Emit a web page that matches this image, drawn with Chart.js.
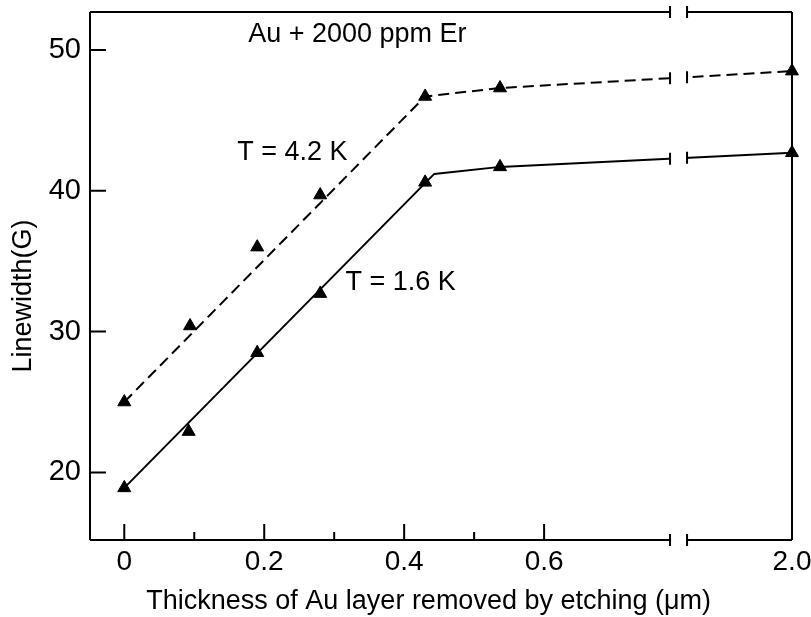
<!DOCTYPE html>
<html>
<head>
<meta charset="utf-8">
<title>Linewidth vs. etched thickness</title>
<script src="https://cdn.jsdelivr.net/npm/chart.js@4.4.1/dist/chart.umd.min.js"></script>
<style>
  html, body { margin: 0; padding: 0; background: #fff; }
  #wrap { width: 811px; height: 617px; position: relative; }
</style>
</head>
<body>
<div id="wrap"><canvas id="linewidthChart"></canvas></div>
<script>
// Au + 2000 ppm Er: EPR linewidth after etching away surface layers

// Measured points (thickness in um, linewidth in G)
const thickness42 = [0, 0.094, 0.19, 0.28, 0.43, 0.537, 2.0];
const linewidth42 = [25.0, 30.4, 36.0, 39.7, 46.7, 47.3, 48.5];
const thickness16 = [0, 0.092, 0.19, 0.28, 0.43, 0.537, 2.0];
const linewidth16 = [18.9, 22.9, 28.5, 32.7, 40.6, 41.7, 42.7];

// Guide lines drawn through the points
const guideThickness42 = [0, 0.43, 0.537, 2.0];
const guideLinewidth42 = [25.0, 46.7, 47.3, 48.5];
const guideThickness16 = [0, 0.443, 0.537, 2.0];
const guideLinewidth16 = [18.9, 41.2, 41.7, 42.7];

// Axis ticks
const xMajorTicks = [0, 0.2, 0.4, 0.6, 2.0];
const xMinorTicks = [0.1, 0.3, 0.5];
const yTicks = [20, 30, 40, 50];

// Text placed inside the plot (data coordinates)
const notes = [
  { text: 'Au + 2000 ppm Er', x: 0.177, y: 51.1 },
  { text: 'T = 4.2 K', x: 0.1615, y: 42.7 },
  { text: 'T = 1.6 K', x: 0.316, y: 33.45 }
];

const xTitle = 'Thickness of Au layer removed by etching (\u03bcm)';
const yTitle = 'Linewidth(G)';

// x axis is cut between these two values
const AXIS_BREAK = { from: 0.78, to: 1.85, gap: 17 };

const FONT = '"Liberation Sans", Arial, sans-serif';

// Linear scale with a gap: both sides keep the same px-per-micron
class BrokenLinearScale extends Chart.LinearScale {
  static id = 'brokenLinear';
  static defaults = Chart.LinearScale.defaults;

  _unitPx() {
    const span = (this.max - this.min) - (AXIS_BREAK.to - AXIS_BREAK.from);
    return (this.width - AXIS_BREAK.gap) / span;
  }

  getPixelForValue(value) {
    const k = this._unitPx();
    if (value <= AXIS_BREAK.from) return this.left + (value - this.min) * k;
    if (value >= AXIS_BREAK.to) return this.right - (this.max - value) * k;
    const start = this.left + (AXIS_BREAK.from - this.min) * k;
    return start + (value - AXIS_BREAK.from) / (AXIS_BREAK.to - AXIS_BREAK.from) * AXIS_BREAK.gap;
  }

  getValueForPixel(pixel) {
    const k = this._unitPx();
    const cut = this.left + (AXIS_BREAK.from - this.min) * k;
    if (pixel <= cut) return this.min + (pixel - this.left) / k;
    if (pixel >= cut + AXIS_BREAK.gap) return this.max - (this.right - pixel) / k;
    return AXIS_BREAK.from + (pixel - cut) / AXIS_BREAK.gap * (AXIS_BREAK.to - AXIS_BREAK.from);
  }
}
Chart.register(BrokenLinearScale);

function toPoints(xs, ys) {
  return xs.map((x, i) => ({ x: x, y: ys[i] }));
}

// y pixel of a drawn line at a given x pixel
function lineYAt(meta, px) {
  const pts = meta.data;
  for (let i = 1; i < pts.length; i++) {
    const a = pts[i - 1], b = pts[i];
    if (px >= a.x && px <= b.x) {
      return a.y + (b.y - a.y) * (px - a.x) / (b.x - a.x);
    }
  }
  return null;
}

// Frame, inward ticks, axis break marks, titles and in-plot text
const frameAndBreak = {
  id: 'frameAndBreak',
  afterDraw(chart) {
    const { ctx, chartArea: { left, right, top, bottom }, scales: { x, y } } = chart;
    const cutL = x.getPixelForValue(AXIS_BREAK.from);
    const cutR = x.getPixelForValue(AXIS_BREAK.to);
    const bar = 6;

    ctx.save();

    // open the gap in the guide lines
    ctx.fillStyle = '#fff';
    ctx.fillRect(cutL, top + 2, cutR - cutL, bottom - top - 4);

    ctx.strokeStyle = '#000';
    ctx.lineWidth = 2;
    ctx.lineCap = 'butt';
    ctx.setLineDash([]);

    ctx.beginPath();
    // left and right sides
    ctx.moveTo(left, top); ctx.lineTo(left, bottom);
    ctx.moveTo(right, top); ctx.lineTo(right, bottom);
    // top and bottom, each cut at the break
    [top, bottom].forEach(py => {
      ctx.moveTo(left, py); ctx.lineTo(cutL, py);
      ctx.moveTo(cutR, py); ctx.lineTo(right, py);
      ctx.moveTo(cutL, py - bar); ctx.lineTo(cutL, py + bar);
      ctx.moveTo(cutR, py - bar); ctx.lineTo(cutR, py + bar);
    });

    // break bars on both guide lines
    chart.data.datasets.forEach((ds, i) => {
      if (!ds.isGuide) return;
      const meta = chart.getDatasetMeta(i);
      [cutL, cutR].forEach(px => {
        const py = lineYAt(meta, px);
        if (py === null) return;
        ctx.moveTo(px, py - bar); ctx.lineTo(px, py + bar);
      });
    });

    // y ticks point into the plot
    yTicks.forEach(v => {
      const py = y.getPixelForValue(v);
      ctx.moveTo(left, py); ctx.lineTo(left + 16, py);
    });
    // x ticks, major and minor
    xMajorTicks.forEach(v => {
      if (v >= AXIS_BREAK.to) return;
      const px = x.getPixelForValue(v);
      ctx.moveTo(px, bottom); ctx.lineTo(px, bottom - 16);
    });
    xMinorTicks.forEach(v => {
      const px = x.getPixelForValue(v);
      ctx.moveTo(px, bottom); ctx.lineTo(px, bottom - 8);
    });
    ctx.stroke();

    // labels inside the plot
    ctx.fillStyle = '#000';
    ctx.font = '27px ' + FONT;
    ctx.textAlign = 'left';
    ctx.textBaseline = 'middle';
    notes.forEach(n => {
      ctx.fillText(n.text, x.getPixelForValue(n.x), y.getPixelForValue(n.y));
    });

    // x axis title, a little left of the plot centre
    ctx.textAlign = 'center';
    ctx.fillText(xTitle, x.getPixelForValue(0.435), bottom + 62);

    // y axis title
    ctx.translate(24, (top + bottom) / 2 + 20);
    ctx.rotate(-Math.PI / 2);
    ctx.fillText(yTitle, 0, 0);

    ctx.restore();
  }
};

const ctx = document.getElementById('linewidthChart');

new Chart(ctx, {
  type: 'scatter',
  data: {
    datasets: [{
      label: 'T = 4.2 K points',
      data: toPoints(thickness42, linewidth42),
      showLine: false,
      pointStyle: 'triangle',
      pointRadius: 7.5,
      pointBackgroundColor: '#000',
      pointBorderColor: '#000',
      pointBorderWidth: 1,
      clip: false
    }, {
      label: 'T = 1.6 K points',
      data: toPoints(thickness16, linewidth16),
      showLine: false,
      pointStyle: 'triangle',
      pointRadius: 7.5,
      pointBackgroundColor: '#000',
      pointBorderColor: '#000',
      pointBorderWidth: 1,
      clip: false
    }, {
      label: 'T = 4.2 K',
      isGuide: true,
      data: toPoints(guideThickness42, guideLinewidth42),
      showLine: true,
      borderColor: '#000',
      borderWidth: 2,
      borderDash: [11, 6],
      pointRadius: 0,
      tension: 0
    }, {
      label: 'T = 1.6 K',
      isGuide: true,
      data: toPoints(guideThickness16, guideLinewidth16),
      showLine: true,
      borderColor: '#000',
      borderWidth: 2,
      pointRadius: 0,
      tension: 0
    }]
  },
  options: {
    responsive: true,
    maintainAspectRatio: false,
    animation: false,
    events: [],
    layout: { padding: { top: 12, right: 19, left: 0, bottom: 0 } },
    plugins: {
      legend: { display: false },
      tooltip: { enabled: false }
    },
    scales: {
      x: {
        type: 'brokenLinear',
        position: 'bottom',
        min: -0.049,
        max: 2.0,
        border: { display: false },
        grid: { display: false, drawTicks: false },
        afterBuildTicks: scale => {
          scale.ticks = xMajorTicks.map(v => ({ value: v }));
        },
        afterFit: scale => {
          scale.height = 77;
          scale.paddingLeft = 0;
          scale.paddingRight = 0;
        },
        ticks: {
          autoSkip: false,
          maxRotation: 0,
          padding: 5,
          color: '#000',
          font: { family: FONT, size: 28 },
          callback: v => (v === 0 ? '0' : v.toFixed(1))
        }
      },
      y: {
        type: 'linear',
        min: 15.2,
        max: 52.7,
        border: { display: false },
        grid: { display: false, drawTicks: false },
        afterBuildTicks: scale => {
          scale.ticks = yTicks.map(v => ({ value: v }));
        },
        afterFit: scale => {
          scale.width = 90;
          scale.paddingTop = 0;
          scale.paddingBottom = 0;
        },
        ticks: {
          padding: 9,
          color: '#000',
          font: { family: FONT, size: 29 },
          callback: v => String(v)
        }
      }
    }
  },
  plugins: [frameAndBreak]
});
</script>
</body>
</html>
